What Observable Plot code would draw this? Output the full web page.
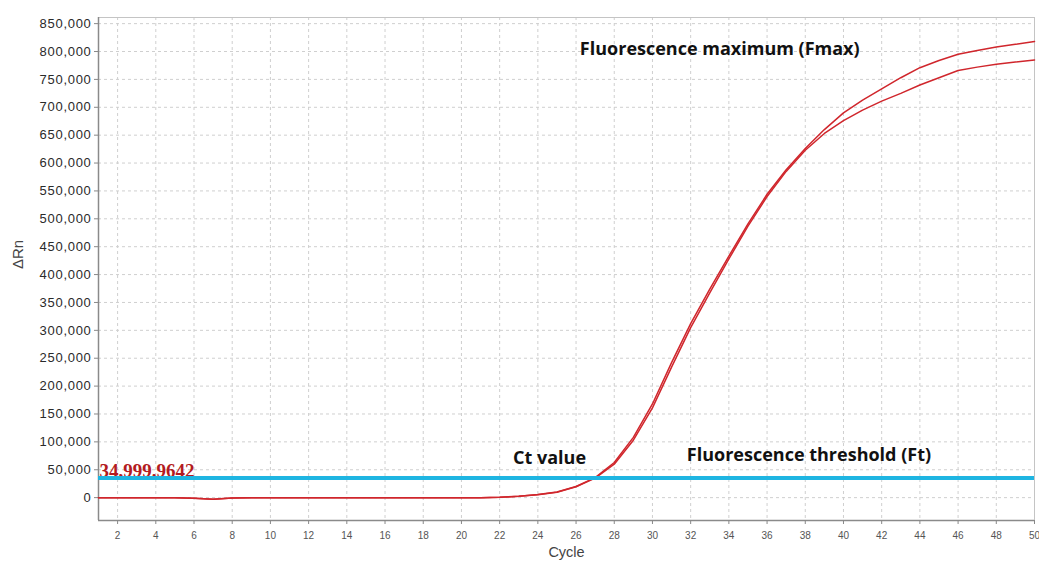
<!DOCTYPE html>
<html>
<head>
<meta charset="utf-8">
<script src="https://cdn.jsdelivr.net/npm/d3@7"></script>
<script src="https://cdn.jsdelivr.net/npm/@observablehq/plot@0.6"></script>
<style>
  html, body { margin: 0; padding: 0; background: #fff; }
  #chart svg { display: block; }
  g[aria-label="y-axis tick label"] { letter-spacing: 0.7px; fill: #2a2a2a; }
  g[aria-label="x-axis tick label"] { fill: #555; }
  g[aria-label="x-axis tick"], g[aria-label="y-axis tick"] { stroke: #888; }
</style>
</head>
<body>
<div id="chart"></div>
<script>
// ---- data ----
const cycles = [1,2,3,4,5,6,7,8,9,10,11,12,13,14,15,16,17,18,19,20,21,22,23,24,25,26,27,28,29,30,31,32,33,34,35,36,37,38,39,40,41,42,43,44,45,46,47,48,49,50];
const wellA = [0,0,0,0,0,-1000,-3000,-800,0,0,0,0,0,0,0,0,0,0,0,0,0,500,2500,5500,10000,20000,36000,63000,108000,168000,242000,312000,374000,433000,491000,544000,588000,626000,660000,690000,713000,733000,753000,771000,784000,795000,802000,808000,813000,818000];
const wellB = [0,0,0,0,0,-1000,-3000,-800,0,0,0,0,0,0,0,0,0,0,0,0,0,500,2400,5300,9600,19500,35000,60000,103000,161000,234000,305000,367000,428000,487000,540000,585000,623000,653000,676000,695000,711000,725000,740000,753000,766000,772000,777000,781000,785000];
const xTicks = [2,4,6,8,10,12,14,16,18,20,22,24,26,28,30,32,34,36,38,40,42,44,46,48,50];
const yTicks = [0,50000,100000,150000,200000,250000,300000,350000,400000,450000,500000,550000,600000,650000,700000,750000,800000,850000];
const xDomain = [1, 50];
const yDomain = [-41000, 861000];
const threshold = 35000;
const thresholdLabel = "34,999.9642";
const noteTexts = ["Fluorescence maximum (Fmax)", "Ct value", "Fluorescence threshold (Ft)"];
const noteCycles = [26.2, 22.7, 31.8];
const noteValues = [793000, 61000, 66500];
const xLabel = "Cycle";
const yLabel = "ΔRn";

const rows = cycles.flatMap((c, i) => [
  {cycle: c, rn: wellA[i], well: "A"},
  {cycle: c, rn: wellB[i], well: "B"}
]);
const notes = noteTexts.map((t, i) => ({text: t, cycle: noteCycles[i], rn: noteValues[i]}));

const chart = Plot.plot({
  width: 1039,
  height: 563,
  marginLeft: 98,
  marginRight: 5,
  marginTop: 17,
  marginBottom: 43,
  style: {fontFamily: "'Liberation Sans', Arial, sans-serif", color: "#333", background: "#fff"},
  x: {domain: xDomain},
  y: {domain: yDomain},
  marks: [
    Plot.gridX(xTicks, {stroke: "#cfcfcf", strokeOpacity: 1, strokeDasharray: "3,3"}),
    Plot.gridY(yTicks, {stroke: "#cfcfcf", strokeOpacity: 1, strokeDasharray: "3,3"}),
    Plot.frame({stroke: "#c4c4c4"}),
    Plot.ruleX([xDomain[0]], {stroke: "#8a8a8a", strokeWidth: 1.5}),
    Plot.ruleY([yDomain[0]], {stroke: "#8a8a8a", strokeWidth: 1.5}),
    Plot.axisX(xTicks, {tickSize: 4, tickPadding: 7, fontSize: 10, label: null}),
    Plot.axisY(yTicks, {tickSize: 4, tickPadding: 3, fontSize: 13, tickFormat: d3.format(","), label: null}),
    Plot.text([yLabel], {frameAnchor: "left", dx: -80, rotate: -90, fontSize: 15, fill: "#444"}),
    Plot.text([xLabel], {frameAnchor: "bottom", dy: 36, fontSize: 14.5, fill: "#444"}),
    Plot.line(rows, {x: "cycle", y: "rn", z: "well", stroke: "#d0262c", strokeWidth: 1.5}),
    Plot.text([threshold], {y: d => d, text: () => thresholdLabel, frameAnchor: "left", textAnchor: "start", lineAnchor: "bottom", dx: 1, dy: -1.5,
      fontFamily: "'Liberation Serif', 'Times New Roman', serif", fontWeight: "bold", fontSize: 19, fill: "#b31b21"}),
    Plot.ruleY([threshold], {stroke: "#1eb5e2", strokeWidth: 4}),
    Plot.text(notes, {x: "cycle", y: "rn", text: "text", textAnchor: "start", lineAnchor: "bottom",
      fontFamily: "'Open Sans', sans-serif", fontWeight: "bold", fontSize: 18, fill: "#111"})
  ]
});
document.getElementById("chart").appendChild(chart);
</script>
</body>
</html>
